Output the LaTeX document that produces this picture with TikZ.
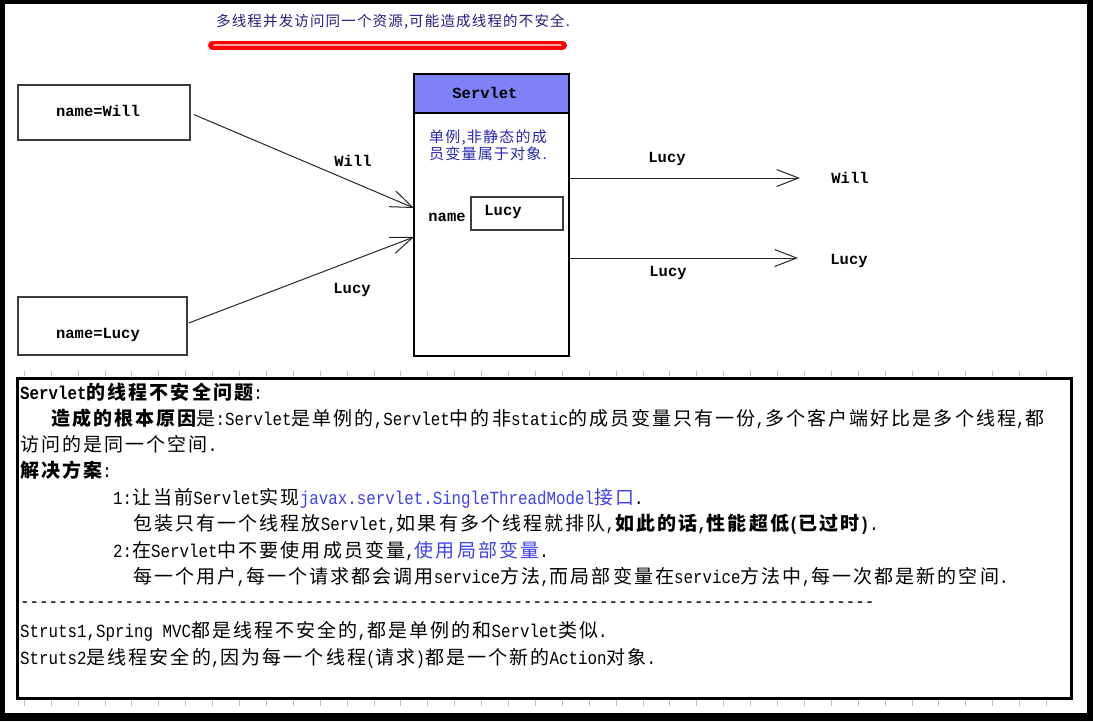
\documentclass[tikz,border=0pt]{standalone}
\usepackage{fontspec}
\usetikzlibrary{arrows.meta}
\newfontfamily\cjkfont{Noto Sans CJK SC}[LetterSpace=11]
\newfontfamily\cjktitle{Noto Sans CJK SC}[LetterSpace=8]
\newfontfamily\monofont{Liberation Mono}[FakeStretch=0.855]
\newfontfamily\dmono{Liberation Mono}
\newcommand\C[1]{{\cjkfont\fontsize{19}{23}\selectfont #1}}
\newcommand\M[1]{{\monofont\fontsize{18.5}{23}\selectfont #1}}
\newcount\dcnt
\newcommand\mydashes[1]{\dcnt=0 \loop\ifnum\dcnt<#1 -\kern0pt\advance\dcnt by 1 \repeat}
\definecolor{navy}{RGB}{32,32,128}
\definecolor{sblue}{RGB}{40,40,180}
\definecolor{lblue}{RGB}{64,64,240}
\definecolor{headfill}{RGB}{128,128,248}
\definecolor{tickgray}{RGB}{190,190,190}
\definecolor{boxgray}{RGB}{60,60,60}
\tikzset{
  dlabel/.style={font=\dmono\bfseries\fontsize{15.5}{18}\selectfont, inner sep=0pt},
  dbox/.style={draw=boxgray, line width=1.5pt, inner sep=0pt},
  arr/.style={draw=black!85, line width=1pt, -{Straight Barb[length=22pt,width=17pt]}},
  tline/.style={anchor=base west, inner sep=0pt},
  tick/.style={draw=tickgray, line width=0.8pt}
}
\begin{document}
\begin{tikzpicture}[x=1pt,y=-1pt]
\useasboundingbox (0,0) rectangle (1093,721);
% outer frame
\fill[black] (0,0) rectangle (1093,721);
\fill[white] (5,4) rectangle (1087,713);

% title
\node[inner sep=0pt, text=navy, font=\cjktitle\fontsize{14.5}{17}\selectfont] (title) at (393,22) {多线程并发访问同一个资源,可能造成线程的不安全.};
\draw[red, line width=9pt, line cap=round] (212.5,45) -- (562.5,45);
\draw[red!35!white, line width=1.5pt, line cap=round] (214,45) -- (561,45);

% client boxes
\node[dbox, minimum width=172pt, minimum height=55pt] (will) at (104,112.5) {};
\node[dlabel] (willt) at (98,111) {name=Will};
\node[dbox, minimum width=169pt, minimum height=58pt] (lucyb) at (102.5,326) {};
\node[dlabel] (lucyt) at (98,335) {name=Lucy};

% servlet
\node[draw=black, line width=1.5pt, minimum width=155pt, minimum height=282pt, inner sep=0pt] (servlet) at (491.5,215) {};
\node[draw=black, line width=1.5pt, fill=headfill, minimum width=155pt, minimum height=39pt, inner sep=0pt] (head) at (491.5,93.5) {};
\node[dlabel] (headt) at (485,93) {Servlet};
\node[inner sep=0pt, anchor=west, text=sblue, align=left, font=\cjktitle\fontsize{15}{17}\selectfont] (note) at (429,145.5) {单例,非静态的成\\员变量属于对象.};
\node[dlabel] (namet) at (447,217) {name};
\node[dbox, minimum width=92pt, minimum height=33pt] (inner) at (517,213.5) {};
\node[dlabel] (innert) at (503,212) {Lucy};

% incoming arrows
\coordinate (in1) at (414,208);
\coordinate (in2) at (414,237);
\draw[arr] ([xshift=3pt,yshift=-2pt]will.east) -- (in1);
\draw[arr] ([xshift=1pt,yshift=3pt]lucyb.east) -- (in2);
\node[dlabel] (lw) at (353,161) {Will};
\node[dlabel] (ll) at (352,290) {Lucy};

% outgoing arrows
\coordinate (t1) at (800,178);
\coordinate (t2) at (798,258);
\draw[arr] (servlet.east |- t1) -- (t1);
\draw[arr] (servlet.east |- t2) -- (t2);
\node[dlabel] (lo1) at (667,159) {Lucy};
\node[dlabel] (lo2) at (668,273) {Lucy};
\node[dlabel] (rw) at (850,178) {Will};
\node[dlabel] (rl) at (849,261) {Lucy};

% ticks
\foreach \i in {0,...,38} {
  \draw[tick] ({24.2+26.9*\i},371) -- ++(0,5);
  \draw[tick] ({24.2+26.9*\i},700) -- ++(0,6);
}

% text box
\draw[black, line width=3pt] (17.5,378) rectangle (1071.5,698);
\node[tline] (l1) at (20,399) {\M{\bfseries Servlet}\C{\bfseries 的线程不安全问题}\M{:}};
\node[tline] (l2) at (51,425) {\C{\bfseries 造成的根本原因}\C{是}\M{:Servlet}\C{是单例的}\M{,Servlet}\C{中的非}\M{static}\C{的成员变量只有一份}\M{,}\C{多个客户端好比是多个线程}\M{,}\C{都}};
\node[tline] (l3) at (20,451) {\C{访问的是同一个空间}\M{.}};
\node[tline] (l4) at (20,477) {\C{\bfseries 解决方案}\M{:}};
\node[tline] (l5) at (113,504) {\M{1:}\C{让当前}\M{Servlet}\C{实现}\textcolor{lblue}{\M{javax.servlet.SingleThreadModel}\C{接口}}\M{.}};
\node[tline] (l6) at (133,530) {\C{包装只有一个线程放}\M{Servlet,}\C{如果有多个线程就排队}\M{,}\C{\bfseries 如此的话}\M{\bfseries ,}\C{\bfseries 性能超低}\M{\bfseries (}\C{\bfseries 已过时}\M{\bfseries )}\M{.}};
\node[tline] (l7) at (113,557) {\M{2:}\C{在}\M{Servlet}\C{中不要使用成员变量}\M{,}\textcolor{lblue}{\C{使用局部变量}}\M{.}};
\node[tline] (l8) at (133,583) {\C{每一个用户}\M{,}\C{每一个请求都会调用}\M{service}\C{方法}\M{,}\C{而局部变量在}\M{service}\C{方法中}\M{,}\C{每一次都是新的空间}\M{.}};
\node[tline] (l9) at (20,607) {\M{\mydashes{90}}};
\node[tline] (l10) at (20,637) {\M{Struts1,Spring MVC}\C{都是线程不安全的}\M{,}\C{都是单例的和}\M{Servlet}\C{类似}\M{.}};
\node[tline] (l11) at (20,664) {\M{Struts2}\C{是线程安全的}\M{,}\C{因为每一个线程}\M{(}\C{请求}\M{)}\C{都是一个新的}\M{Action}\C{对象}\M{.}};
\end{tikzpicture}
\end{document}
